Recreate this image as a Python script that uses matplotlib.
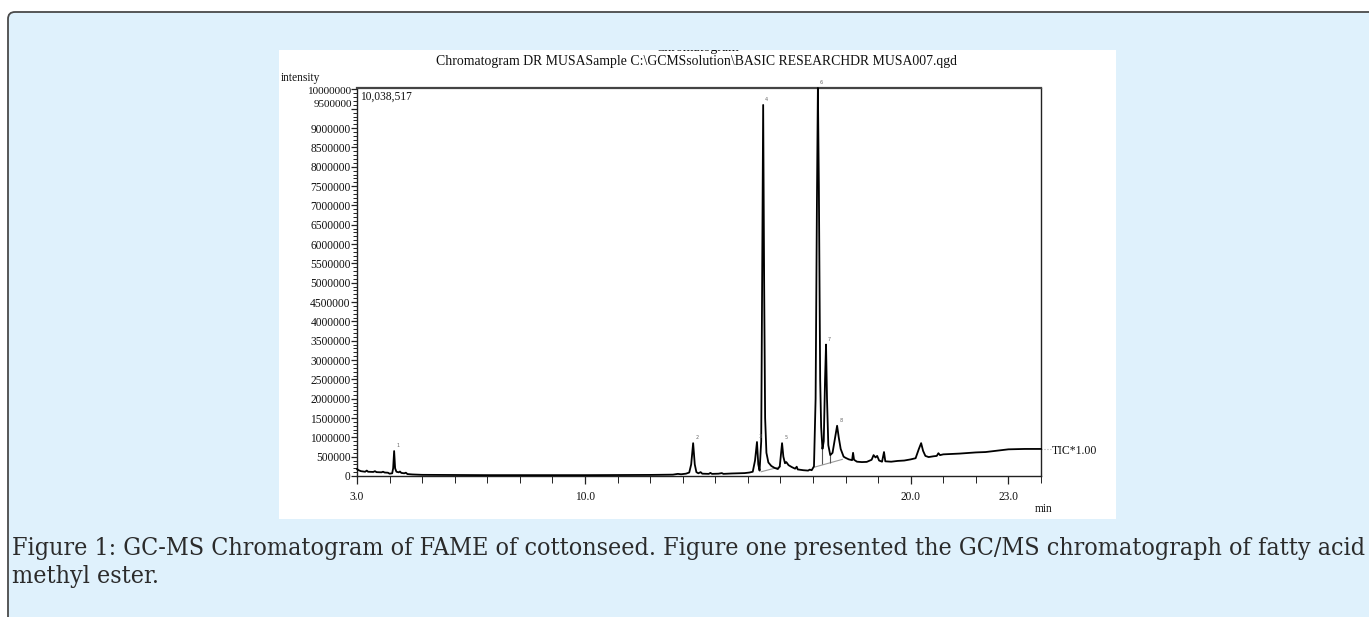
import matplotlib
matplotlib.use('Agg')
import matplotlib.pyplot as plt
from matplotlib.patches import FancyBboxPatch
from matplotlib.transforms import IdentityTransform
from matplotlib.ticker import MultipleLocator, FixedLocator, FuncFormatter
from matplotlib import font_manager

# ---------------- data ----------------
time_min = [3.00, 3.05, 3.12, 3.25, 3.30, 3.34, 3.50, 3.55, 3.60, 3.75, 3.80, 3.85, 3.95, 4.00,
            4.08, 4.11, 4.14, 4.17, 4.21, 4.28, 4.32, 4.36, 4.45, 4.50, 4.55, 4.70, 5.00, 6.00,
            7.00, 8.00, 9.00, 10.00, 11.00, 12.00, 12.70, 12.85, 12.95, 13.10, 13.20, 13.26,
            13.32, 13.37, 13.42, 13.48, 13.55, 13.60, 13.80, 13.85, 13.90, 14.10, 14.20, 14.25,
            14.50, 14.70, 14.90, 15.05, 15.15, 15.22, 15.28, 15.32, 15.36, 15.41, 15.44, 15.47,
            15.50, 15.53, 15.57, 15.63, 15.72, 15.82, 15.92, 15.98, 16.02, 16.05, 16.09, 16.14,
            16.18, 16.25, 16.35, 16.45, 16.50, 16.53, 16.70, 16.85, 16.90, 16.96, 17.03, 17.08,
            17.12, 17.15, 17.18, 17.22, 17.25, 17.29, 17.33, 17.37, 17.40, 17.43, 17.47, 17.53,
            17.60, 17.68, 17.74, 17.79, 17.85, 17.90, 17.94, 18.00, 18.10, 18.20, 18.23, 18.26,
            18.35, 18.50, 18.65, 18.80, 18.86, 18.92, 18.97, 19.03, 19.12, 19.18, 19.22, 19.40,
            19.60, 19.80, 20.00, 20.15, 20.25, 20.32, 20.38, 20.45, 20.55, 20.70, 20.80, 20.85,
            20.90, 21.00, 21.50, 22.00, 22.30, 22.50, 22.70, 23.00, 23.50, 24.00]
intensity = [180000, 150000, 125000, 110000, 140000, 110000, 105000, 125000, 100000, 95000,
             110000, 90000, 85000, 60000, 70000, 200000, 645000, 200000, 110000, 95000, 115000,
             80000, 70000, 85000, 50000, 40000, 30000, 25000, 22000, 22000, 22000, 22000, 25000,
             28000, 35000, 55000, 45000, 60000, 90000, 300000, 850000, 300000, 100000, 70000,
             100000, 60000, 55000, 80000, 55000, 60000, 75000, 55000, 65000, 70000, 75000, 90000,
             110000, 400000, 880000, 300000, 140000, 900000, 5500000, 9600000, 5000000, 1500000,
             600000, 350000, 260000, 210000, 180000, 250000, 600000, 850000, 500000, 330000,
             360000, 280000, 230000, 190000, 240000, 170000, 150000, 140000, 165000, 150000,
             250000, 2000000, 7000000, 10038517, 7500000, 2500000, 1270000, 700000, 900000,
             2500000, 3400000, 2000000, 800000, 540000, 600000, 1000000, 1300000, 1000000,
             700000, 590000, 500000, 470000, 430000, 410000, 600000, 420000, 370000, 360000,
             365000, 420000, 540000, 480000, 520000, 400000, 370000, 620000, 380000, 370000,
             390000, 400000, 430000, 460000, 700000, 850000, 650000, 520000, 490000, 510000,
             520000, 590000, 540000, 560000, 580000, 610000, 620000, 640000, 660000, 690000,
             700000, 700000]

# integration baselines / drop lines (grey)
base1_t = [15.41, 16.00]
base1_i = [110000, 240000]
base2_t = [17.05, 17.90]
base2_i = [230000, 430000]
drop_t = [17.29, 17.53]
drop_lo = [300000, 340000]
drop_hi = [700000, 540000]

peak_t = [4.14, 13.32, 15.28, 15.47, 16.05, 17.15, 17.40, 17.74]
peak_i = [645000, 850000, 880000, 9600000, 850000, 10038517, 3400000, 1300000]
peak_lab = ['1', '2', '3', '4', '5', '6', '7', '8']

x_ticklabels = ['3.0', '10.0', '20.0', '23.0']
x_tickpos = [3.0, 10.0, 20.0, 23.0]
y_max = 10038517
title1 = 'Chromatogram'
title2 = 'Chromatogram DR MUSASample C:\\GCMSsolution\\BASIC RESEARCHDR MUSA007.qgd'
caption1 = 'Figure 1: GC-MS Chromatogram of FAME of cottonseed. Figure one presented the GC/MS chromatograph of fatty acid'
caption2 = 'methyl ester.'

# ---------------- figure ----------------
W, H = 1369, 617
fig = plt.figure(figsize=(W / 100, H / 100), dpi=100)
fig.patch.set_facecolor('white')
renderer = fig.canvas.get_renderer()

def fx(x):
    return x / W

def fy(y):
    return 1 - y / H

def fit(t, target):
    w = t.get_window_extent(renderer).width
    t.set_fontsize(t.get_fontsize() * target / w)

SERIF = ['Liberation Serif', 'DejaVu Serif']

cond_files = [f.fname for f in font_manager.fontManager.ttflist
              if 'DejaVuSerifCondensed.ttf' in f.fname]

# blue framed panel
box = FancyBboxPatch((8, -60), 1420, H - 12 + 60,
                     boxstyle='round,pad=0,rounding_size=7',
                     transform=IdentityTransform(), facecolor='#dff1fc',
                     edgecolor='#4a4a4a', linewidth=1.3, zorder=-5)
fig.patches.append(box)

# white image area
ax_img = fig.add_axes([fx(279), fy(519), (1116 - 279) / W, (519 - 50) / H])
ax_img.set_xlim(0, 837)
ax_img.set_ylim(469, 0)
ax_img.set_facecolor('white')
ax_img.set_xticks([])
ax_img.set_yticks([])
for s in ax_img.spines.values():
    s.set_visible(False)
t2 = ax_img.text(418, 11.0, title2, ha='center', va='center', family=SERIF,
                 fontsize=8, color='#111', clip_on=True)
fit(t2, 520)
t1 = ax_img.text(418, -2.0, title1, ha='center', va='center', family=SERIF,
                 fontsize=t2.get_fontsize(), color='#111', clip_on=True)

# chromatogram axes
ax = fig.add_axes([fx(357), fy(476), (1041 - 357) / W, (476 - 88) / H])
ax.set_facecolor('none')
ax.plot(base1_t, base1_i, color='#9a9a9a', lw=0.8, zorder=2)
ax.plot(base2_t, base2_i, color='#9a9a9a', lw=0.8, zorder=2)
ax.vlines(drop_t, drop_lo, drop_hi, color='#555', lw=0.8, zorder=2)
ax.plot(time_min, intensity, color='black', lw=1.3, zorder=3, clip_on=False)
ax.set_xlim(3.0, 24.0)
ax.set_ylim(0, y_max)

for s in ax.spines.values():
    s.set_color('#222')
    s.set_linewidth(1.0)
ax.spines['top'].set_linewidth(1.6)
ax.spines['top'].set_color('#444')

ax.xaxis.set_major_locator(FixedLocator(x_tickpos))
ax.set_xticklabels(x_ticklabels, family=SERIF, fontsize=8.3)
ax.xaxis.set_minor_locator(MultipleLocator(1.0))
ax.yaxis.set_major_locator(MultipleLocator(500000))
ax.yaxis.set_minor_locator(MultipleLocator(100000))

def yfmt(v, pos):
    if v > 9.4e6:
        return ''
    return '%d' % round(v)

ax.yaxis.set_major_formatter(FuncFormatter(yfmt))
ax.tick_params(axis='y', which='major', direction='out', length=4, width=0.9,
               color='#222', labelcolor='#111', pad=0.5)
ax.tick_params(axis='x', which='major', direction='out', length=6, width=0.9,
               color='#222', labelcolor='#111', pad=5)
ax.tick_params(axis='both', which='minor', direction='out', length=3, width=0.7, color='#222')
ax.tick_params(axis='x', which='minor', length=5)
for lab in ax.get_yticklabels():
    lab.set_family(SERIF)
    lab.set_fontsize(8.3)

# top two y labels (squeezed together in the reference)
ax.text(-0.0065, (476 - 91.5) / 388, '10000000', transform=ax.transAxes, ha='right',
        va='center', family=SERIF, fontsize=8.0, color='#111')
ax.text(-0.0065, (476 - 104.5) / 388, '9500000', transform=ax.transAxes, ha='right',
        va='center', family=SERIF, fontsize=8.0, color='#111')

ax.text(0.005, (476 - 97) / 388, '10,038,517', transform=ax.transAxes, ha='left',
        va='center', family=SERIF, fontsize=8.3, color='#111')
fig.text(fx(281), fy(78), 'intensity', ha='left', va='center', family=SERIF,
         fontsize=8.3, color='#111')
fig.text(fx(1035), fy(509), 'min', ha='left', va='center', family=SERIF,
         fontsize=8.3, color='#111')

# TIC label with dotted connector
ax.plot([24.0, 24.3], [700000, 700000], color='#aaa', lw=0.8, ls=':', clip_on=False)
fig.text(fx(1052), fy(451), 'TIC*1.00', ha='left', va='center', family=SERIF,
         fontsize=8.5, color='#111')

# tiny peak labels
for pt, pi, pl in zip(peak_t, peak_i, peak_lab):
    ax.annotate(pl, (pt, pi), xytext=(1.5, 2), textcoords='offset points',
                ha='left', va='bottom', fontsize=3.5, color='#666',
                annotation_clip=False)

# caption
if cond_files:
    cap_kw = dict(fontproperties=font_manager.FontProperties(fname=cond_files[0]))
else:
    cap_kw = dict(family=SERIF)
c1 = fig.text(fx(12), fy(548), caption1, ha='left', va='center', color='#2b2b2b', **cap_kw)
c1.set_fontsize(15)
fit(c1, 1354)
c2 = fig.text(fx(12), fy(576), caption2, ha='left', va='center', color='#2b2b2b', **cap_kw)
c2.set_fontsize(c1.get_fontsize())

fig.savefig('out.png', dpi=100)
